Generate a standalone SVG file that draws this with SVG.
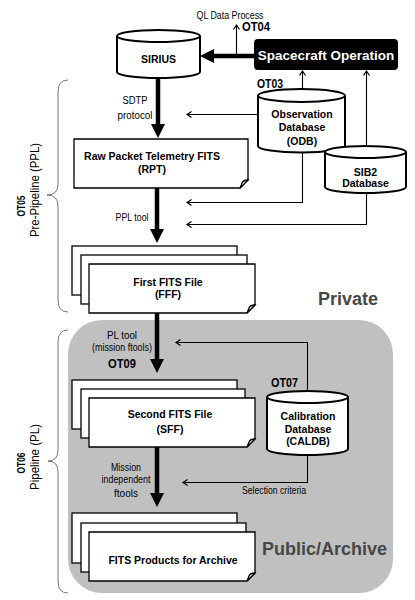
<svg xmlns="http://www.w3.org/2000/svg" width="415" height="600" viewBox="0 0 415 600">
<defs>
<style>
.doc{fill:#fff;stroke:#000;stroke-width:1.3}
.cyl{fill:#fff;stroke:#000;stroke-width:2}
.thick{fill:none;stroke:#000;stroke-width:4.5}
.thin{fill:none;stroke:#000;stroke-width:1.1}
.brace{fill:none;stroke:#777;stroke-width:1}
.b{font-family:"Liberation Sans",Arial,sans-serif;font-weight:bold;font-size:10.5px;fill:#000;text-anchor:middle}
.n{font-family:"Liberation Sans",Arial,sans-serif;font-size:10px;fill:#000;text-anchor:middle}
.ot{font-family:"Liberation Sans",Arial,sans-serif;font-weight:bold;font-size:12.5px;fill:#000}
.big{font-family:"Liberation Sans",Arial,sans-serif;font-weight:bold;font-size:18px;fill:#474747}
</style>
<marker id="ah" markerUnits="userSpaceOnUse" markerWidth="15" markerHeight="14" refX="4" refY="7" orient="auto">
<path d="M0,0 L14,7 L0,14 Z" fill="#000"/>
</marker>
<marker id="oh" markerUnits="userSpaceOnUse" markerWidth="8" markerHeight="8" refX="6" refY="4" orient="auto">
<path d="M1.5,1 L6,4 L1.5,7" fill="none" stroke="#000" stroke-width="1.2"/>
</marker>
</defs>
<rect width="415" height="600" fill="#fff"/>

<g id="public-region">
<rect x="68" y="320" width="325" height="273" rx="34" ry="34" fill="#c0c0c0"/>
</g>

<g id="braces">
<path class="brace" d="M68,80 Q58,80 58,92 V184 Q58,195 47,195 Q58,195 58,206 V300 Q58,312 68,312"/>
<path class="brace" d="M68,330 Q58,330 58,342 V450 Q58,461 48,461 Q58,461 58,472 V581 Q58,593 68,593"/>
</g>

<g id="connectors">
<path class="thick" d="M254,56 H210" marker-end="url(#ah)"/>
<path class="thick" d="M158,78 V128" marker-end="url(#ah)"/>
<path class="thick" d="M157,188 V233" marker-end="url(#ah)"/>
<path class="thick" d="M157,313 V363" marker-end="url(#ah)"/>
<path class="thick" d="M157,447 V497" marker-end="url(#ah)"/>
<path class="thin" d="M236.5,56 V25" marker-end="url(#oh)"/>
<path class="thin" d="M302.5,89 V71" marker-end="url(#oh)"/>
<path class="thin" d="M366.5,146 V71" marker-end="url(#oh)"/>
<path class="thin" d="M258,114.5 H187" marker-end="url(#oh)"/>
<path class="thin" d="M302.5,152 V202.5 H187" marker-end="url(#oh)"/>
<path class="thin" d="M366.5,193 V224.5 H187" marker-end="url(#oh)"/>
<path class="thin" d="M307.5,391 V342.5 H176" marker-end="url(#oh)"/>
<path class="thin" d="M307.5,455 V482.5 H183" marker-end="url(#oh)"/>
</g>

<g id="sirius">
<path class="cyl" d="M117,36 V72 A41.5,6 0 0 0 200,72 V36"/>
<ellipse class="cyl" cx="158.5" cy="36" rx="41.5" ry="6"/>
<text class="b" x="158.5" y="63">SIRIUS</text>
</g>

<g id="spacecraft">
<rect x="254" y="39" width="144" height="31" rx="4" fill="#000"/>
<text class="b" x="326" y="60" style="font-size:13.5px;fill:#fff">Spacecraft Operation</text>
</g>

<g id="odb">
<path class="cyl" d="M258,95.5 V146 A43.5,6.5 0 0 0 345,146 V95.5"/>
<ellipse class="cyl" cx="301.5" cy="95.5" rx="43.5" ry="6.5"/>
<text class="b" x="302" y="118">Observation</text>
<text class="b" x="302" y="131">Database</text>
<text class="b" x="302" y="145">(ODB)</text>
</g>

<g id="sib2">
<path class="cyl" d="M325,152 V187 A40.5,6 0 0 0 406,187 V152"/>
<ellipse class="cyl" cx="365.5" cy="152" rx="40.5" ry="6"/>
<text class="b" x="365.5" y="175.5">SIB2</text>
<text class="b" x="365.5" y="187">Database</text>
</g>

<g id="rpt">
<path class="doc" d="M74,139 H248 V180 L240,188 H74 Z"/>
<path class="doc" d="M240,188 L248,180 Q243,180 242,183 Q241,186 240,188 Z"/>
<text class="b" x="152" y="160">Raw Packet Telemetry FITS</text>
<text class="b" x="152" y="173">(RPT)</text>
</g>

<g id="fff">
<rect class="doc" x="72" y="246" width="165" height="49"/>
<rect class="doc" x="81" y="255" width="166" height="49"/>
<path class="doc" d="M89,264 H255 V305 L247,313 H89 Z"/>
<path class="doc" d="M247,313 L255,305 Q250,305 249,308 Q248,311 247,313 Z"/>
<text class="b" x="168" y="285.5">First FITS File</text>
<text class="b" x="168" y="298">(FFF)</text>
</g>

<g id="sff">
<rect class="doc" x="72" y="380" width="165" height="49"/>
<rect class="doc" x="81" y="389" width="164" height="49"/>
<path class="doc" d="M89,398 H255 V439 L247,447 H89 Z"/>
<path class="doc" d="M247,447 L255,439 Q250,439 249,442 Q248,445 247,447 Z"/>
<text class="b" x="170" y="418">Second FITS File</text>
<text class="b" x="170" y="433">(SFF)</text>
</g>

<g id="caldb">
<path class="cyl" d="M267,397 V449 A40.5,6 0 0 0 348,449 V397"/>
<ellipse class="cyl" cx="307.5" cy="397" rx="40.5" ry="6"/>
<text class="b" x="308" y="420">Calibration</text>
<text class="b" x="308" y="433">Database</text>
<text class="b" x="308" y="445">(CALDB)</text>
</g>

<g id="products">
<rect class="doc" x="72" y="513" width="165" height="50"/>
<rect class="doc" x="81" y="523" width="165" height="49"/>
<path class="doc" d="M89,532 H255 V573 L247,581 H89 Z"/>
<path class="doc" d="M247,581 L255,573 Q250,573 249,576 Q248,579 247,581 Z"/>
<text class="b" x="173" y="564">FITS Products for Archive</text>
</g>

<g id="labels">
<text class="n" x="230" y="18.5" textLength="67" lengthAdjust="spacingAndGlyphs">QL Data Process</text>
<text class="ot" x="242" y="31" textLength="28" lengthAdjust="spacingAndGlyphs">OT04</text>
<text class="ot" x="257" y="87.5" textLength="26" lengthAdjust="spacingAndGlyphs">OT03</text>
<text class="n" x="135" y="104" textLength="25" lengthAdjust="spacingAndGlyphs">SDTP</text>
<text class="n" x="135" y="119" textLength="35" lengthAdjust="spacingAndGlyphs">protocol</text>
<text class="n" x="132" y="220.5" textLength="33" lengthAdjust="spacingAndGlyphs">PPL tool</text>
<text class="n" x="122" y="338.5" textLength="30" lengthAdjust="spacingAndGlyphs">PL tool</text>
<text class="n" x="122" y="350.5" textLength="60" lengthAdjust="spacingAndGlyphs">(mission ftools)</text>
<text class="ot" x="108" y="367.5" textLength="28" lengthAdjust="spacingAndGlyphs">OT09</text>
<text class="ot" x="271" y="387" textLength="27" lengthAdjust="spacingAndGlyphs">OT07</text>
<text class="n" x="126" y="470.5" textLength="30" lengthAdjust="spacingAndGlyphs">Mission</text>
<text class="n" x="126" y="483" textLength="49" lengthAdjust="spacingAndGlyphs">independent</text>
<text class="n" x="126" y="496.5" textLength="24" lengthAdjust="spacingAndGlyphs">ftools</text>
<text class="n" x="274" y="494" textLength="64" lengthAdjust="spacingAndGlyphs">Selection criteria</text>
<text class="big" x="318" y="305">Private</text>
<text class="big" x="262" y="555">Public/Archive</text>
<text class="ot" transform="translate(25,206) rotate(-90)" text-anchor="middle" style="font-size:11px" textLength="21" lengthAdjust="spacingAndGlyphs">OT05</text>
<text class="n" transform="translate(38.5,190) rotate(-90)" style="font-size:12px" textLength="94" lengthAdjust="spacingAndGlyphs">Pre-Pipeline (PPL)</text>
<text class="ot" transform="translate(25,463) rotate(-90)" text-anchor="middle" style="font-size:11px" textLength="21" lengthAdjust="spacingAndGlyphs">OT06</text>
<text class="n" transform="translate(38.5,457) rotate(-90)" style="font-size:12px" textLength="66" lengthAdjust="spacingAndGlyphs">Pipeline (PL)</text>
</g>
</svg>
